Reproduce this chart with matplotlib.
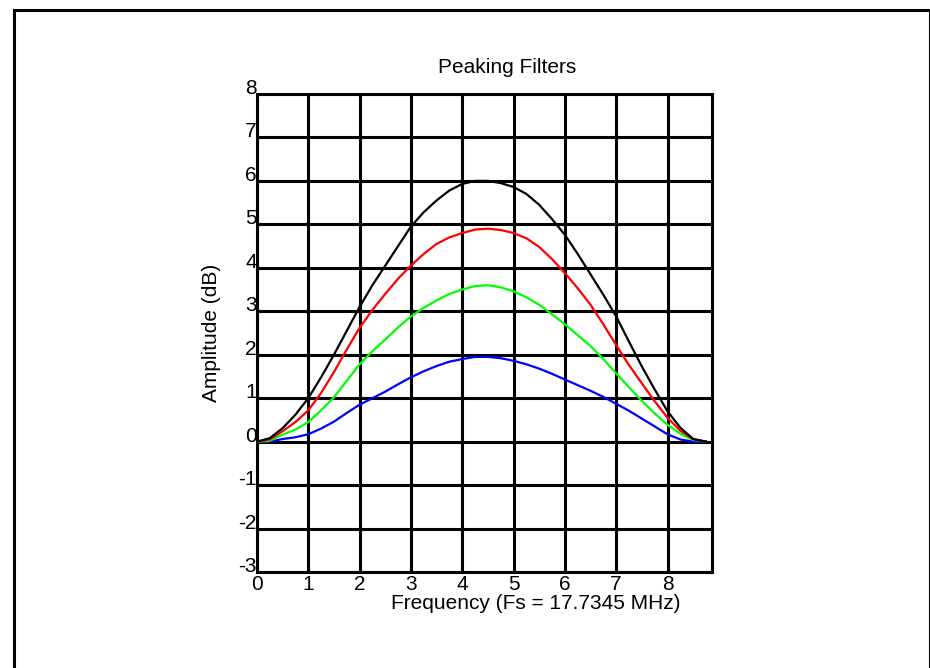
import numpy as np
import matplotlib
matplotlib.use('Agg')
from matplotlib import pyplot as plt
from matplotlib.patches import Rectangle

plt.rcParams['font.family'] = ['Liberation Sans', 'DejaVu Sans']

# frequency axis (MHz), every 0.25 MHz
freq = [0, 0.25, 0.5, 0.75, 1, 1.25, 1.5, 1.75, 2, 2.25, 2.5, 2.75, 3, 3.25, 3.5, 3.75,
        4, 4.25, 4.5, 4.75, 5, 5.25, 5.5, 5.75, 6, 6.25, 6.5, 6.75, 7, 7.25, 7.5, 7.75,
        8, 8.25, 8.5, 8.75]

gain_black = [0, 0.08, 0.31, 0.62, 1.0, 1.48, 2.0, 2.55, 3.1, 3.6, 4.05, 4.5, 4.95, 5.28,
              5.55, 5.78, 5.93, 6.0, 6.0, 5.95, 5.86, 5.7, 5.45, 5.12, 4.76, 4.32, 3.85,
              3.38, 2.88, 2.3, 1.73, 1.2, 0.7, 0.32, 0.06, 0]
gain_red = [0, 0.05, 0.24, 0.45, 0.72, 1.12, 1.6, 2.12, 2.62, 3.03, 3.4, 3.75, 4.05, 4.32,
            4.55, 4.7, 4.8, 4.88, 4.9, 4.87, 4.8, 4.68, 4.48, 4.2, 3.88, 3.53, 3.15, 2.7,
            2.22, 1.76, 1.34, 0.93, 0.55, 0.25, 0.06, 0]
gain_green = [0, 0.02, 0.16, 0.28, 0.45, 0.72, 1.02, 1.4, 1.78, 2.08, 2.35, 2.63, 2.88, 3.08,
              3.25, 3.4, 3.5, 3.58, 3.6, 3.55, 3.46, 3.32, 3.15, 2.93, 2.7, 2.45, 2.2,
              1.9, 1.57, 1.25, 0.94, 0.65, 0.39, 0.18, 0.04, 0]
gain_blue = [0, 0.0, 0.06, 0.1, 0.17, 0.3, 0.46, 0.66, 0.85, 1.0, 1.15, 1.32, 1.48, 1.62,
             1.74, 1.84, 1.9, 1.95, 1.95, 1.92, 1.86, 1.78, 1.68, 1.56, 1.43, 1.3, 1.17,
             1.03, 0.87, 0.71, 0.53, 0.35, 0.17, 0.05, 0.0, 0]

xticks = list(range(0, 9))
yticks = list(range(-3, 9))
fs_half = 17.7345 / 2

fig = plt.figure(figsize=(9.3, 6.68), dpi=100)
fig.patches.append(Rectangle((0.01505, -0.05), 0.9845, 1.0355, transform=fig.transFigure,
                             fill=False, edgecolor='black', linewidth=2.2))

ax = fig.add_axes([0.2763, 0.1437, 0.4893, 0.7156])
ax.plot(freq, gain_blue, color='#0000ff', lw=1.6, zorder=3)
ax.plot(freq, gain_green, color='#00ff00', lw=1.6, zorder=3)
ax.plot(freq, gain_red, color='#ff0000', lw=1.6, zorder=3)
ax.plot(freq, gain_black, color='black', lw=1.6, zorder=3)

ax.set_xlim(0, fs_half)
ax.set_ylim(-3, 8)
ax.set_xticks(xticks)
ax.set_yticks(yticks)
ax.set_xticklabels([str(t) for t in xticks])
ax.set_yticklabels([str(t) for t in yticks])
ax.grid(True, color='black', lw=2.2)
ax.set_axisbelow(True)
for s in ax.spines.values():
    s.set_linewidth(2.2)
ax.tick_params(length=0, labelsize=15)
ax.tick_params(axis='y', pad=0)
ax.tick_params(axis='x', pad=2)
for lab in ax.get_yticklabels():
    lab.set_va('baseline')

ax.set_title('Peaking Filters', fontsize=15, x=0.549, pad=15)
ax.set_xlabel('Frequency (Fs = 17.7345 MHz)', fontsize=15)
ax.xaxis.set_label_coords(0.613, -0.045)
ax.set_ylabel('Amplitude (dB)', fontsize=15)
ax.yaxis.set_label_coords(-0.08, 0.5)

fig.savefig('out.png', dpi=100)
